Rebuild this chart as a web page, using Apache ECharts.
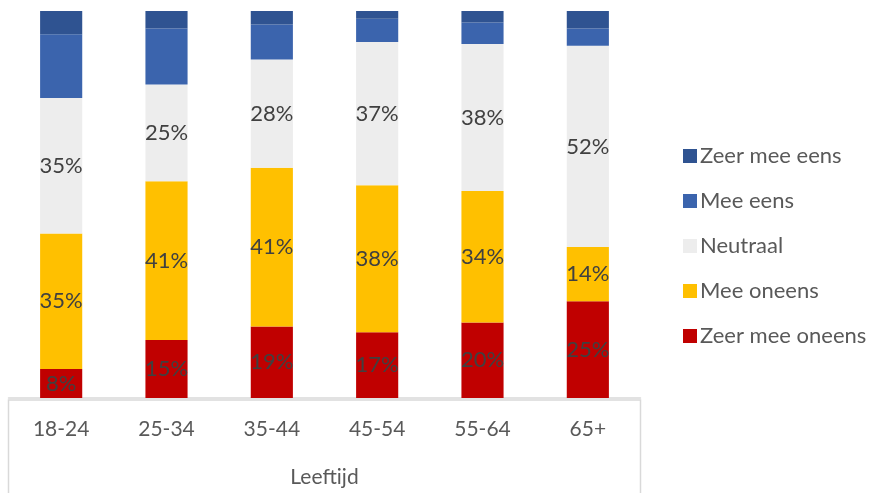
<!DOCTYPE html>
<html><head><meta charset="utf-8">
<script src="https://cdn.jsdelivr.net/npm/echarts@6/dist/echarts.min.js"></script>
<style>html,body{margin:0;padding:0;background:#fff}#c{width:872px;height:493px}</style>
</head><body><div id="c"></div>
<script>
const categories = ['18-24','25-34','35-44','45-54','55-64','65+'];
const zeerMeeOneens = [7.5, 15, 18.5, 17, 19.5, 25];
const meeOneens = [35, 41, 41, 38, 34, 14];
const neutraal = [35, 25, 28, 37, 38, 52];
const meeEens = [16.5, 14.5, 9, 6, 5.5, 4.5];
const zeerMeeEens = [6, 4.5, 3.5, 2, 3, 4.5];
const seriesNames = ['Zeer mee oneens','Mee oneens','Neutraal','Mee eens','Zeer mee eens'];
const seriesData = [zeerMeeOneens, meeOneens, neutraal, meeEens, zeerMeeEens];
const colors = ['#C00000','#FFC000','#EDEDED','#3B64AD','#2F5391'];
const showLabel = [true, true, true, false, false];

const FONT = 'Lato';
const G = {left: 8.5, right: 231.5, top: 11, bottom: 93};
const W = 872, H = 493;

const chart = echarts.init(document.getElementById('c'), null, {renderer:'canvas'});
chart.setOption({
  animation: false,
  textStyle: {fontFamily: FONT},
  grid: {left: G.left, right: G.right, top: G.top, bottom: G.bottom, containLabel: false},
  legend: {
    orient: 'vertical', left: 678, top: 140,
    itemWidth: 14, itemHeight: 14, itemGap: 23,
    icon: 'rect',
    data: ['Zeer mee eens','Mee eens','Neutraal','Mee oneens','Zeer mee oneens'],
    textStyle: {fontFamily: FONT, fontSize: 22, color: '#595959', lineHeight: 20, padding: [0,0,0,-2]}
  },
  xAxis: {
    type: 'category', data: categories,
    name: 'Leeftijd', nameLocation: 'middle', nameGap: 69,
    nameTextStyle: {fontFamily: FONT, fontSize: 21, color: '#595959'},
    axisLine: {lineStyle: {color: '#D9D9D9', width: 1.5}},
    axisTick: {show: false},
    axisLabel: {fontFamily: FONT, fontSize: 21, color: '#595959', margin: 21}
  },
  yAxis: {type: 'value', min: 0, max: 100, show: false, splitLine: {show: false}},
  graphic: [{
    type: 'rect',
    shape: {x: G.left, y: H - G.bottom, width: W - G.left - G.right, height: G.bottom + 10},
    style: {fill: 'none', stroke: '#D9D9D9', lineWidth: 1.5},
    silent: true
  }],
  series: seriesNames.map((n, i) => ({
    name: n, type: 'bar', stack: 'total', data: seriesData[i],
    barWidth: '40%',
    itemStyle: {color: colors[i]},
    label: {
      show: showLabel[i], position: 'inside',
      formatter: p => Math.ceil(p.value) + '%',
      fontFamily: FONT, fontSize: 22, color: '#404040'
    }
  }))
});
</script></body></html>
